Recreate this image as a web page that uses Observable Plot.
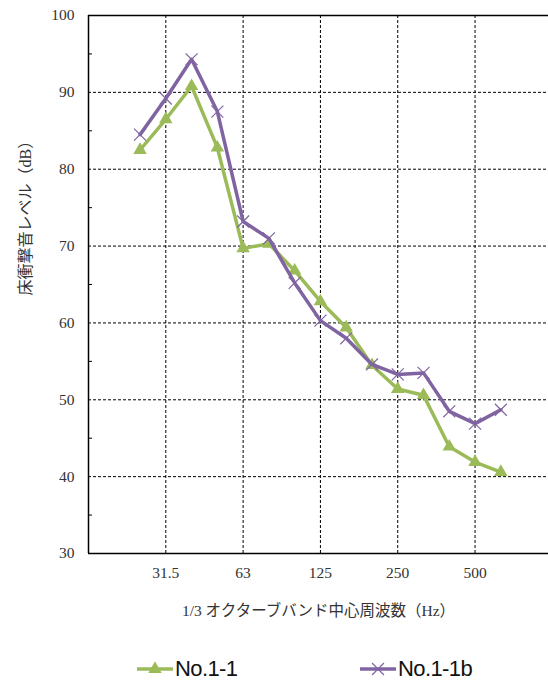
<!DOCTYPE html>
<html>
<head>
<meta charset="utf-8">
<script src="https://cdn.jsdelivr.net/npm/d3@7"></script>
<script src="https://cdn.jsdelivr.net/npm/@observablehq/plot@0.6"></script>
<style>
  body { margin: 0; background: #fff; }
  #wrap { position: relative; width: 548px; height: 684px; overflow: hidden; }
  #chart { position: absolute; left: 0; top: 0; }
  .leg { position: absolute; top: 656px; display: flex; align-items: center;
         font-family: "Liberation Sans", Arial, sans-serif; font-size: 22px; letter-spacing: -0.6px; color: #111; }
  .leg svg { display: block; margin-right: 2px; }
</style>
</head>
<body>
<div id="wrap">
  <div id="chart"></div>
  <div class="leg" style="left:137px"><svg width="36" height="20" id="sw1"></svg><span>No.1-1</span></div>
  <div class="leg" style="left:360px"><svg width="36" height="20" id="sw2"></svg><span>No.1-1b</span></div>
</div>
<script>
const bands = ["25","31.5","40","50","63","80","100","125","160","200","250","315","400","500","630"];
const tickBands = ["31.5","63","125","250","500"];
const seriesNames = ["No.1-1", "No.1-1b"];
const no11  = [82.5, 86.5, 90.8, 82.8, 69.7, 70.3, 66.8, 62.8, 59.4, 54.5, 51.4, 50.6, 43.9, 41.9, 40.6];
const no11b = [84.5, 89.2, 94.3, 87.5, 73.2, 71.0, 65.2, 60.3, 58.0, 54.6, 53.3, 53.5, 48.5, 46.9, 48.7];
const yMajor = [30, 40, 50, 60, 70, 80, 90, 100];
const yGrid = [40, 50, 60, 70, 80, 90];
const yMinor = [35, 45, 55, 65, 75, 85, 95];
const yTitle = "床衝撃音レベル（dB）";
const xTitle = "1/3 オクターブバンド中心周波数（Hz）";

const green = "#9bbb59";
const purple = "#8064a2";

const d1 = bands.map((b, i) => ({i, band: b, v: no11[i]}));
const d2 = bands.map((b, i) => ({i, band: b, v: no11b[i]}));
const xTicks = tickBands.map(b => bands.indexOf(b));
const xDomain = [-2, 15.85];

const chart = Plot.plot({
  width: 548,
  height: 630,
  marginTop: 15,
  marginLeft: 88,
  marginRight: 0,
  marginBottom: 77,
  style: {fontFamily: "'Liberation Serif', 'Noto Sans CJK JP', serif", fontSize: "15px", color: "#333", background: "#fff"},
  x: {domain: xDomain},
  y: {domain: [30, 100]},
  marks: [
    Plot.gridY(yGrid, {stroke: "#000", strokeOpacity: 1, strokeDasharray: "3,2", strokeWidth: 1}),
    Plot.gridX(xTicks, {stroke: "#000", strokeOpacity: 1, strokeDasharray: "3,2", strokeWidth: 1}),
    Plot.tickY(yMinor, {y: d => d, stroke: "#000", strokeWidth: 1, insetRight: 456}),
    Plot.ruleY([yMajor[0]], {stroke: "#000", strokeWidth: 1.5}),
    Plot.ruleY([yMajor[yMajor.length - 1]], {stroke: "#000", strokeWidth: 1.5}),
    Plot.ruleX([xDomain[0]], {stroke: "#000", strokeWidth: 1.5}),
    Plot.axisY(yMajor, {tickSize: 0, tickPadding: 14, fontSize: 15.5, label: null}),
    Plot.text([yTitle], {frameAnchor: "left", rotate: -90, dx: -63, dy: 11, fontSize: 16, fill: "#333", text: d => d}),
    Plot.axisX(xTicks, {tickSize: 0, tickPadding: 13, fontSize: 15.5, tickFormat: i => bands[i], label: xTitle, labelAnchor: "center", labelArrow: "none", labelOffset: 62}),
    Plot.line(d1, {x: "i", y: "v", stroke: green, strokeWidth: 3.5}),
    Plot.dot(d1, {x: "i", y: "v", symbol: "triangle", r: 5, fill: green, stroke: "none"}),
    Plot.line(d2, {x: "i", y: "v", stroke: purple, strokeWidth: 3.5}),
    Plot.dot(d2, {x: "i", y: "v", symbol: "times", r: 5.5, stroke: purple, strokeWidth: 1.2})
  ]
});
document.getElementById("chart").appendChild(chart);

// legend swatches
function swatch(id, color, sym) {
  const s = d3.select("#" + id);
  s.append("line").attr("x1", 0).attr("x2", 36).attr("y1", 10).attr("y2", 10)
    .attr("stroke", color).attr("stroke-width", 3.5);
  if (sym === "triangle") {
    s.append("path").attr("transform", "translate(18,10)")
      .attr("d", d3.symbol(d3.symbolTriangle, Math.PI * 25)()).attr("fill", color);
  } else {
    s.append("path").attr("transform", "translate(18,10)")
      .attr("d", d3.symbol(d3.symbolTimes, Math.PI * 30)()).attr("fill", "none")
      .attr("stroke", color).attr("stroke-width", 1.2);
  }
}
swatch("sw1", green, "triangle");
swatch("sw2", purple, "times");
</script>
</body>
</html>
